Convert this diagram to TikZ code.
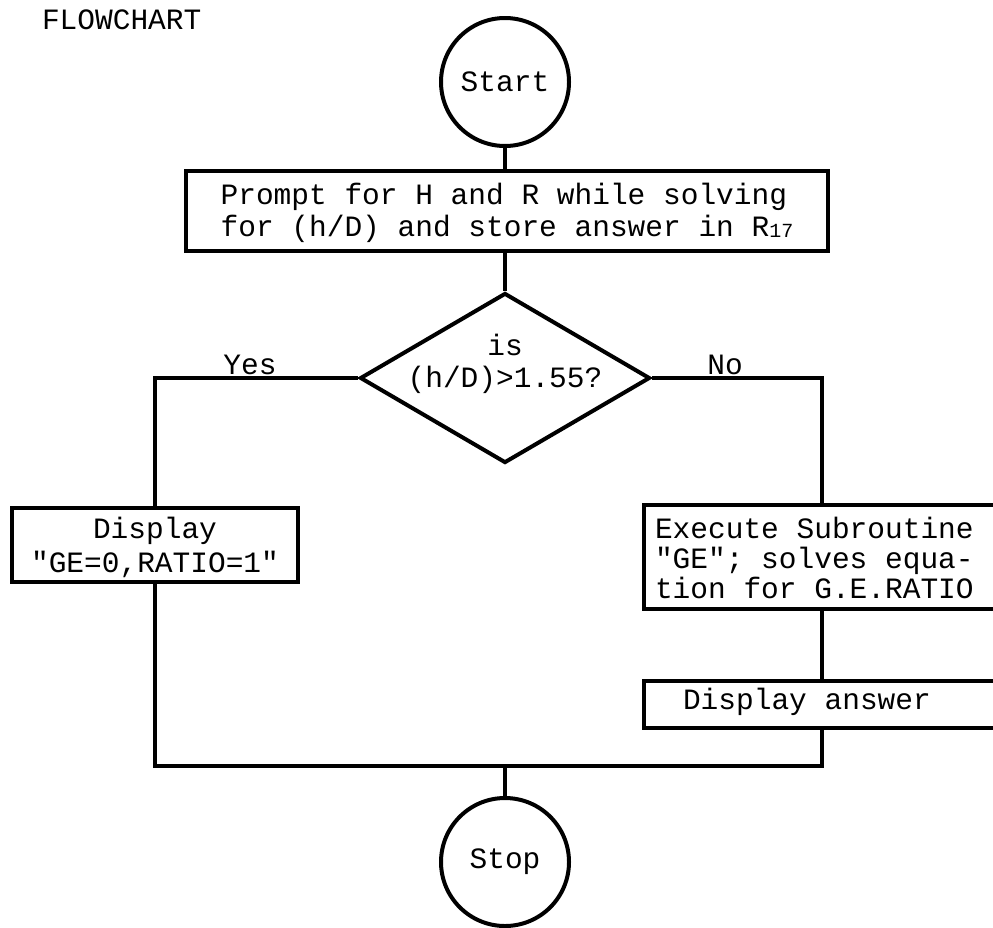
\documentclass[tikz,border=0pt]{standalone}
\usepackage{fontspec}
\setmonofont{Liberation Mono}
\usetikzlibrary{shapes.geometric}
\tikzset{
  txt/.style={font=\ttfamily\fontsize{29.5}{32}\selectfont, inner sep=0pt},
  term/.style={draw, circle, minimum size=128pt, inner sep=0pt, font=\ttfamily\fontsize{29.5}{32}\selectfont},
  procbox/.style={draw, rectangle, inner sep=0pt},
  decision/.style={draw, diamond, minimum width=290pt, minimum height=170pt, inner sep=0pt},
  flow/.style={line width=4pt}
}
\begin{document}
\begin{tikzpicture}[x=1pt,y=-1pt, line width=4pt, line join=miter]
\useasboundingbox (0,0) rectangle (993,927);
\node[txt, anchor=west] (title) at (40,20) {FLOWCHART};
\node[term] (start) at (505,82) {Start};
\node[procbox, minimum width=642pt, minimum height=80pt] (prompt) at (507,211) {};
\node[txt, align=left] (prompttext) at (507,213)
  {Prompt for H and R while solving\\for (h/D) and store answer in R\raisebox{-1pt}{\fontsize{20}{20}\selectfont 17}};
\node[decision] (dec) at (505,378) {};
\node[txt, align=center] (dectext) at (505,364) {is\\(h/D)>1.55?};
\coordinate (yescorner) at (155,378);
\coordinate (nocorner) at (822,378);
\node[txt, anchor=south] (yes) at (250,377) {Yes};
\node[txt, anchor=south] (no) at (725,377) {No};
\node[procbox, minimum width=286pt, minimum height=74pt] (disp) at (155,545) {};
\node[txt, align=center, font=\ttfamily\fontsize{29.5}{34}\selectfont] (disptext) at (155,547)
  {Display\\"GE=0,RATIO=1"};
\node[procbox, anchor=west, minimum width=380pt, minimum height=104pt] (exec) at (642,557) {};
\node[txt, anchor=west, align=left, font=\ttfamily\fontsize{29.5}{30}\selectfont] (exectext) at (653,558)
  {Execute Subroutine\\"GE"; solves equa-\\tion for G.E.RATIO};
\node[procbox, anchor=west, minimum width=380pt, minimum height=47pt] (ans) at (642,704.5) {};
\node[txt, anchor=west] (anstext) at (681,702) {Display answer};
\coordinate (lcorner) at (155,766);
\coordinate (rcorner) at (822,766);
\coordinate (join) at (505,766);
\node[term] (stop) at (505,862) {Stop};
\draw[flow] (start) -- (start |- prompt.north);
\draw[flow] (dec.north |- prompt.south) -- (dec.north);
\draw[flow] (dec.west) -- (yescorner) -- (yescorner |- disp.north);
\draw[flow] (dec.east) -- (nocorner) -- (nocorner |- exec.north);
\draw[flow] (nocorner |- exec.south) -- (nocorner |- ans.north);
\draw[flow] (lcorner |- disp.south) -- (lcorner) -- (rcorner) -- (rcorner |- ans.south);
\draw[flow] (join) -- (stop);
\end{tikzpicture}
\end{document}
